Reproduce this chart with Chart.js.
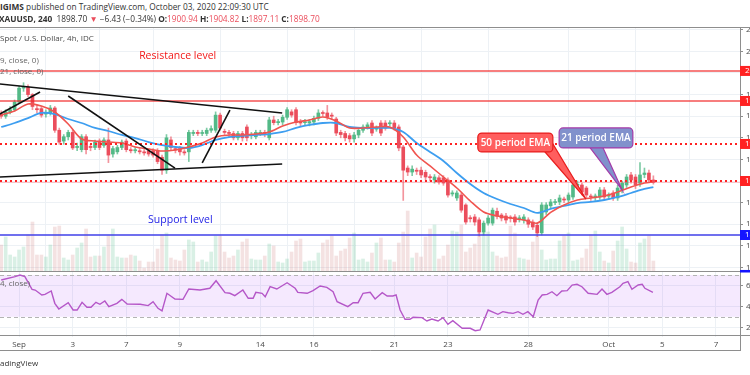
<!DOCTYPE html>
<html>
<head>
<meta charset="utf-8">
<script src="https://cdn.jsdelivr.net/npm/chart.js@4"></script>
<style>
  body { margin: 0; background: #fff; width: 750px; height: 375px; overflow: hidden; position: relative; font-family: 'Open Sans', sans-serif; }
  .t { position: absolute; white-space: nowrap; font-size: 8.3px; line-height: 10px; color: #333; z-index: 2; }
  .s { font-size: 8px; }
  .red { color: #eb4d5c; }
  #priceWrap { position: absolute; left: 0; top: 27px; width: 750px; height: 244px; }
  #rsiWrap { position: absolute; left: 0; top: 271px; width: 750px; height: 81px; }
</style>
</head>
<body>
<div class="t" style="left:0;top:2px"><b>IGIMS</b> published on TradingView.com, October 03, 2020 22:09:30 UTC</div>
<div class="t" style="left:-1px;top:14px"><b>XAUUSD, 240</b>&nbsp; 1898.70 <span class="red">▼</span> −6.43 (−0.34%) <b>O:</b><span class="red">1900.94</span> <b>H:</b><span class="red">1904.82</span> <b>L:</b><span class="red">1897.11</span> <b>C:</b><span class="red">1898.70</span></div>
<div class="t s" style="left:0;top:33px;color:#4a4a4a">Spot / U.S. Dollar, 4h, IDC</div>
<div class="t s" style="left:0;top:55px;color:#666">9, close, 0)</div>
<div class="t s" style="left:0;top:66px;color:#666">21, close, 0)</div>
<div class="t s" style="left:0;top:278px;color:#666">4, close)</div>
<div class="t s" style="left:0;top:358px;color:#333">adingView</div>

<div id="priceWrap"><canvas id="priceChart" width="750" height="244"></canvas></div>
<div id="rsiWrap"><canvas id="rsiChart" width="750" height="81"></canvas></div>

<script>
// ---- data (4h bars, index 0 = first visible bar) ----
const opens  = [1962,1960,1964,1966,1973,1986,1987,1980,1967,1967,1962,1963,1967.6,1947,1937,1941,1945,1931,1929,1941,
  1932,1931,1937,1933,1938,1925,1927,1931,1937,1929,1928,1928,1927,1928,1928,1928,1922,1910,1938,1930,
  1930,1927,1927,1944,1945,1944,1944,1947,1947,1961,1946,1945,1944,1940,1944,1950,1942,1941,1944,1945,
  1940,1956.5,1954,1954.6,1959,1964,1966,1955,1954,1953.7,1954.6,1958,1963,1963,1961,1957.4,1945,1944,1942,1939,
  1942.6,1947,1950,1953.7,1948,1953.7,1953.7,1953,1953.7,1950,1931.5,1912,1908.3,1910,1910,1908,1904,1901,1903,1903,
  1900.9,1888,1884.3,1887,1877.8,1866,1866.7,1864,1852.8,1861,1861,1872,1868.5,1867.6,1866,1866.7,1865,1863.9,1864,1862,
  1859,1852,1871.3,1877,1880,1880.6,1883,1882.4,1885.2,1896,1896.3,1893.5,1886,1885.2,1885.2,1891.7,1886,1888.9,1884.3,1891.7,
  1896.3,1905.6,1903.7,1898,1906,1907.4,1900.94];
const highs  = [1965,1966,1969,1975,1988,1991,1989,1981,1970,1969,1966,1970,1969,1949,1943,1947,1947,1935,1943,1943,
  1934,1938,1939,1940,1949,1932,1933,1938,1939,1931,1931,1930,1929,1930,1930,1930,1924,1943,1941,1932,
  1932,1929,1947,1947,1947,1947,1949,1951,1964,1963,1948,1947,1946,1946,1946,1952,1945,1947,1947,1947,
  1959,1960,1957,1961,1968,1966,1968,1957,1957,1957,1960,1966,1965,1970,1963,1959,1947,1946,1944,1945,
  1949,1952,1954,1956,1951,1956,1956,1956,1956,1952,1933,1914,1914,1912,1913,1910,1906,1906,1905,1905,
  1903,1891,1891,1889,1879,1868,1869,1866,1863,1868,1875,1875,1870,1870,1868,1869,1868,1869,1866,1864,
  1861,1880,1880,1883,1883,1887,1885,1889,1899,1900,1898,1895,1888,1888,1894,1894,1889,1891,1896,1900,
  1906,1908,1906,1917,1912,1910,1904.82];
const lows   = [1958,1958,1962,1965,1972,1983,1978,1966,1963,1959,1959,1961,1945,1934,1934,1938,1929,1928,1927,1925,
  1928,1929,1929,1931,1917,1922,1925,1929,1927,1926,1926,1925,1924,1923,1922,1916,1906,1907,1929,1926,
  1924,1924,1918,1942,1942,1942,1942,1945,1945,1947,1942,1941,1938,1938,1937,1937,1939,1939,1942,1941,
  1938,1952,1952,1952,1957,1959,1952,1951,1952,1951,1952,1956,1960,1957,1957,1942,1940,1937,1936,1936,
  1940,1945,1948,1942,1946,1942,1947,1951,1947,1928,1882,1905,1905,1906,1903,1901,1900,1898,1897,1896,
  1885,1886,1882,1871,1860,1862,1859,1849,1850,1859,1859,1865,1863,1861,1862,1859,1862,1861,1857,1855,
  1848.5,1850,1869,1875,1878,1878,1880,1880,1883,1893,1887,1884,1882,1882,1883,1883,1883,1882,1882,1889,
  1894,1898,1893,1895,1903,1899,1897.11];
const closes = [1960,1964,1966,1973,1986,1987.5,1980,1969,1966,1961,1963,1967.6,1947,1936,1941,1945,1930.6,1932,1941,1929,
  1931,1936,1931,1938,1924,1930,1931,1936,1929,1928,1929,1927,1926,1925,1924,1918,1910,1940,1931,1928.7,
  1927,1926,1945,1945,1944,1944.5,1947,1948.5,1961,1949,1945,1944,1940,1944,1940,1940,1943,1945,1945,1943,
  1956.5,1954,1955,1959,1966,1961,1954,1953.7,1954.5,1955,1958,1963,1962.5,1959,1960,1944.4,1943,1940,1939,1942.6,
  1947,1950,1952,1944.4,1949,1944.4,1949,1953.7,1949,1930.6,1910,1908.3,1911,1909,1905.6,1903.7,1903,1903.7,1899.1,1898.1,
  1887,1889,1888.9,1873,1862,1865,1862,1852.8,1861,1865.7,1873,1867.6,1865.7,1863.9,1865.7,1862,1865.7,1866.7,1860,1857.4,
  1852,1877.8,1877.8,1880.6,1880.6,1884.3,1882.4,1887,1896.3,1897,1889.8,1887,1885.2,1886,1891.7,1885.2,1886.5,1884.3,1893.5,1898.1,
  1903.7,1900.9,1896.3,1905.6,1907.4,1900.9,1898.70];
const volumes = [26,34,16,14,21,24,36,49,16,16,14,26,44,45,13,11,16,23,28,42,
  14,15,15,24,35,42,14,13,13,16,15,10,3,9,9,22,36,38,13,11,
  10,21,31,29,9,11,9,19,35,35,19,13,15,21,29,32,12,11,11,15,
  27,25,9,8,12,19,30,32,9,10,10,18,28,31,35,15,20,22,33,38,
  11,12,9,18,28,33,11,11,9,28,39,60,13,18,14,34,42,46,12,15,
  26,40,39,46,19,23,27,39,39,39,19,15,13,14,45,38,13,12,11,29,
  42,21,11,12,12,30,35,38,10,11,13,22,36,40,19,10,8,20,30,44,
  22,9,8,28,32,35,10];

// EMA lines, read every third bar
const emaBars = [0,3,6,9,12,15,18,21,24,27,30,33,36,39,42,45,48,51,54,57,60,63,66,69,72,75,78,81,84,87,
  90,93,96,99,102,105,108,111,114,117,120,123,126,129,132,135,138,141,144,146];
const ema9  = [1961.1,1964.8,1971.3,1969.4,1963.9,1952.8,1938.9,1937,1936.1,1935.2,1931.5,1929.6,1927.8,1928.7,1931.5,
  1935.2,1940.7,1942.6,1942.6,1943.5,1945.4,1950.9,1954.6,1956.5,1959.3,1955.6,1949.1,1949.1,1950,1950,
  1940.7,1924.1,1913.9,1903.7,1893.5,1881.5,1871.3,1867.6,1865.7,1863.9,1861,1871,1877.8,1882.4,1884.3,
  1886.1,1889.8,1894.4,1898.1,1899.1];
const ema21 = [1950,1953.7,1958.3,1963,1962,1957.4,1953.7,1949.1,1946.3,1942.6,1939.8,1936.1,1933.3,1931.5,1930.6,
  1933.3,1938,1940.7,1941.7,1942.6,1943.5,1945.4,1949.1,1951.9,1953.7,1953.7,1950,1949.1,1949.1,1949.1,
  1945.4,1935.2,1926.9,1918.5,1907.4,1897.2,1888.9,1883.3,1878.7,1875,1870.4,1874.1,1876.9,1879.6,1880.6,
  1882.4,1885.2,1888.9,1892.6,1894.4];

// RSI readings (bar position, value)
const rsiBars = [0,3.1,4.2,5.3,6.9,7.6,9.1,9.8,11.2,12,12.9,15,16.1,17,18.1,19.2,20.1,21.2,22.1,23.2,
  24.1,25.9,27,28.2,31.1,32.9,34,35.1,36,37.1,38.9,40.7,42,44.5,46.7,48.1,50.1,51.2,52.3,54.1,
  55.3,56.4,57,58.4,59.1,60.2,61.7,64,65.8,66.4,68.5,69.8,71.4,72.9,74.3,75.2,77.6,78.8,79.9,81,
  82.6,83.7,85.3,86.4,87.7,88.4,89.3,90.4,91.5,92.2,94.2,95.3,96.4,97.8,98.9,100,101.1,103.2,105,106.1,
  107.2,109,111.2,112.3,113.5,114.6,115.7,116.8,117.9,119.1,120.2,121.1,122.2,123.3,124.4,125.5,126.7,127.8,128.9,130,
  131.4,133.4,134.5,135.6,136.7,138.5,139.2,140.3,141.2,142.6,143.5,144.1,145.9];
const rsiVals = [65.2,68.4,70,68.4,56.3,55.6,50.9,51.5,54.7,42.9,37.5,43.5,36.5,36.5,43.9,39.1,39.1,43.9,42,45.1,
  39.7,42.9,46.7,42.2,42,40.7,44.5,38.1,35.6,52.5,47,46.7,56.6,55.6,57.3,64.5,53.1,52.5,50.2,55.6,
  47.7,47.7,53.4,52.5,49.2,58.8,56.6,62.6,57.3,53.4,52.5,55,59.5,58.2,54,44.5,39.7,43.5,43.5,52.5,
  53.4,47,53.1,49.9,49.9,50.9,36.5,27.6,27.6,29.5,29.2,26,27.9,26,29.2,22.8,26.3,19,19,16.7,
  17.4,36.5,32.4,34.9,33.9,33.3,34.9,32.4,34.9,30.1,46.1,50.9,51.5,54,50.2,54.7,55,60.4,61.1,58.8,
  52.5,51.5,56.6,51.5,53.4,58.8,62,63.6,56.3,60.4,61.1,57.3,53.4];

// axis ticks
const dayTickBars = [4,16,28,40,58,70,88,100,118,136,148,160];
const dayLabels = ['Sep','3','7','9','14','16','21','23','28','Oct','5','7'];
const priceTicks = [1820,1840,1860,1880,1900,1920,1940,1960,1980,2000,2020,2040];
const rsiTicks = [20,40,60];

// drawn levels and trend lines (bar, price)
const levelPrices = [2001.9, 1974.1, 1934.3, 1900, 1850];
const trendFrom = [[-0.3,1989.8],[-0.3,1962],[15,1978.7],[-0.3,1903.7],[45,1916.7]];
const trendTo   = [[62.9,1963],[8.7,1982.4],[38.9,1912],[62.9,1915.7],[51.2,1965.7]];

// ---- styling ----
const UP = '#53b987', DOWN = '#eb4d5c';
const GRID = '#edf1f5', AXIS = '#8e8e8e', TICK_TXT = '#4a4a4a';
const X_MIN = -0.27, X_MAX = 165.39;
const FONT = "'Open Sans', sans-serif";
const levelStyles = [
  { color: 'rgba(242,40,40,0.8)', dash: [], box: '#f22' },
  { color: 'rgba(242,40,40,0.8)', dash: [], box: '#f22' },
  { color: '#f22', dash: [2, 3], box: '#f22' },
  { color: '#f22', dash: [2, 3], box: '#f22' },
  { color: '#4040e8', dash: [], box: '#1414ff' }
];

const isUp = i => closes[i] >= opens[i];
const bars = opens.map((_, i) => i);

// keep Chart.js from reserving room for edge tick labels
const noPad = s => { s.paddingTop = 0; s.paddingBottom = 0; s.paddingLeft = 0; s.paddingRight = 0; };

const dayGridX = {
  type: 'linear', min: X_MIN, max: X_MAX, offset: false,
  afterBuildTicks: s => { s.ticks = dayTickBars.map(v => ({ value: v })); }
};

// draws level lines, trend lines, notes and callouts on the price pane
const drawingsPlugin = {
  id: 'drawings',
  afterDatasetsDraw(chart) {
    const { ctx, chartArea: a, scales: { x, y } } = chart;
    const px = (b, p) => [x.getPixelForValue(b), y.getPixelForValue(p)];
    ctx.save();
    ctx.beginPath();
    ctx.rect(a.left, a.top, a.right - a.left, a.bottom - a.top);
    ctx.clip();

    // last price line
    ctx.strokeStyle = 'rgba(235,77,92,0.35)';
    ctx.lineWidth = 1;
    let ly = Math.round(y.getPixelForValue(closes[closes.length - 1])) + 0.5;
    ctx.beginPath(); ctx.moveTo(a.left, ly); ctx.lineTo(a.right, ly); ctx.stroke();

    levelPrices.forEach((p, k) => {
      const st = levelStyles[k];
      const yy = y.getPixelForValue(p);
      ctx.strokeStyle = st.color;
      ctx.lineWidth = st.dash.length ? 2 : 1.5;
      ctx.setLineDash(st.dash);
      ctx.beginPath(); ctx.moveTo(a.left, yy); ctx.lineTo(a.right, yy); ctx.stroke();
    });
    ctx.setLineDash([]);

    ctx.strokeStyle = '#111';
    ctx.lineWidth = 1.6;
    trendFrom.forEach((f, k) => {
      const p0 = px(f[0], f[1]), p1 = px(trendTo[k][0], trendTo[k][1]);
      ctx.beginPath(); ctx.moveTo(p0[0], p0[1]); ctx.lineTo(p1[0], p1[1]); ctx.stroke();
    });

    ctx.font = '10.5px ' + FONT;
    ctx.textAlign = 'center';
    ctx.textBaseline = 'middle';
    let p = px(39.5, 2015.7);
    ctx.fillStyle = '#f21818';
    ctx.fillText('Resistance level', p[0], p[1]);
    p = px(40.1, 1863.9);
    ctx.fillStyle = '#2323e6';
    ctx.fillText('Support level', p[0], p[1]);

    // callouts
    const callout = (box, tail, fill, stroke, text) => {
      const b0 = px(box[0], box[2]), b1 = px(box[1], box[3]);
      ctx.beginPath();
      tail.forEach((t, n) => { const q = px(t[0], t[1]); n ? ctx.lineTo(q[0], q[1]) : ctx.moveTo(q[0], q[1]); });
      ctx.closePath();
      ctx.fillStyle = fill; ctx.fill();
      ctx.strokeStyle = stroke; ctx.lineWidth = 1.2; ctx.stroke();
      ctx.beginPath();
      ctx.roundRect(b0[0], b0[1], b1[0] - b0[0], b1[1] - b0[1], 4);
      ctx.fillStyle = fill; ctx.fill();
      ctx.strokeStyle = stroke; ctx.stroke();
      ctx.fillStyle = '#fff';
      ctx.font = '600 10px ' + FONT;
      ctx.fillText(text, (b0[0] + b1[0]) / 2, (b0[1] + b1[1]) / 2 + 0.5);
    };
    callout([106.7, 123.5, 1944.4, 1926.9], [[121.5, 1928], [123.5, 1934.3], [130.9, 1883.3]],
      '#ff5e5e', '#e81c1c', '50 period EMA');
    callout([124.9, 141.4, 1949.1, 1930.6], [[131.8, 1931], [134.7, 1931], [139, 1891.7]],
      '#8191cc', '#a33aa8', '21 period EMA');
    ctx.restore();
  },
  afterDraw(chart) {
    const { ctx, chartArea: a, scales: { y } } = chart;
    ctx.save();
    ctx.strokeStyle = AXIS; ctx.lineWidth = 1;
    ctx.beginPath(); ctx.moveTo(0, 0.5); ctx.lineTo(750, 0.5); ctx.stroke();
    ctx.font = '8px ' + FONT;
    ctx.textBaseline = 'middle';
    ctx.textAlign = 'left';
    const boxes = levelPrices.concat([1813]);
    boxes.forEach((p, k) => {
      const yy = y.getPixelForValue(p);
      ctx.fillStyle = k < levelStyles.length ? levelStyles[k].box : '#1414ff';
      ctx.fillRect(a.right, yy - 5, 12, 10);
      ctx.fillStyle = '#fff';
      ctx.fillText(p.toFixed(2), a.right + 5, yy);
    });
    ctx.restore();
  }
};

new Chart(document.getElementById('priceChart'), {
  type: 'bar',
  data: {
    datasets: [
      { type: 'line', label: 'EMA 9', data: emaBars.map((b, k) => ({ x: b, y: ema9[k] })),
        borderColor: '#f0544f', borderWidth: 1.6, pointRadius: 0, tension: 0.3, order: 0 },
      { type: 'line', label: 'EMA 21', data: emaBars.map((b, k) => ({ x: b, y: ema21[k] })),
        borderColor: '#3d9ef0', borderWidth: 1.8, pointRadius: 0, tension: 0.3, order: 1 },
      { label: 'Body', data: bars.map(i => ({ x: i, y: [opens[i], closes[i]] })),
        backgroundColor: bars.map(i => isUp(i) ? UP : DOWN), barThickness: 3, minBarLength: 1,
        grouped: false, order: 2 },
      { label: 'Wick', data: bars.map(i => ({ x: i, y: [lows[i], highs[i]] })),
        backgroundColor: bars.map(i => isUp(i) ? 'rgba(83,185,135,0.75)' : 'rgba(235,77,92,0.6)'),
        barThickness: 1, grouped: false, order: 3 },
      { label: 'Volume', data: bars.map(i => ({ x: i, y: volumes[i] })), yAxisID: 'yv',
        backgroundColor: bars.map(i => isUp(i) ? 'rgba(83,185,135,0.22)' : 'rgba(200,110,110,0.2)'),
        barThickness: 3, grouped: false, order: 5 }
    ]
  },
  options: {
    responsive: false, animation: false,
    layout: { padding: 0 },
    plugins: { legend: { display: false }, tooltip: { enabled: false } },
    scales: {
      x: Object.assign({}, dayGridX, {
        ticks: { display: false },
        grid: { color: GRID, drawTicks: false },
        border: { display: false },
        afterFit: s => { s.height = 0; noPad(s); }
      }),
      y: {
        position: 'right', min: 1816.67, max: 2042.59,
        afterBuildTicks: s => { s.ticks = priceTicks.map(v => ({ value: v })); },
        afterFit: s => { s.width = 10; noPad(s); },
        ticks: { color: TICK_TXT, font: { size: 8, family: FONT }, padding: 3 },
        grid: { color: GRID, tickLength: 3, tickColor: AXIS },
        border: { color: AXIS }
      },
      yv: { display: false, min: 0, max: 244 }
    }
  },
  plugins: [drawingsPlugin]
});

// RSI band, dashed bounds and frame lines
const rsiPanePlugin = {
  id: 'rsiPane',
  beforeDatasetsDraw(chart) {
    const { ctx, chartArea: a, scales: { y } } = chart;
    const y70 = y.getPixelForValue(70), y30 = y.getPixelForValue(30);
    ctx.save();
    ctx.fillStyle = 'rgba(156,39,246,0.1)';
    ctx.fillRect(a.left, y70, a.right - a.left, y30 - y70);
    ctx.strokeStyle = '#b4b4b4';
    ctx.setLineDash([4, 3]);
    ctx.lineWidth = 1;
    [y70, y30].forEach(v => {
      ctx.beginPath(); ctx.moveTo(a.left, Math.round(v) + 0.5); ctx.lineTo(a.right, Math.round(v) + 0.5); ctx.stroke();
    });
    ctx.restore();
  },
  afterDraw(chart) {
    const { ctx, chartArea: a } = chart;
    ctx.save();
    ctx.strokeStyle = AXIS; ctx.lineWidth = 1;
    ctx.beginPath();
    ctx.moveTo(0, 0.5); ctx.lineTo(750, 0.5);
    ctx.moveTo(0, a.bottom + 0.5); ctx.lineTo(750, a.bottom + 0.5);
    ctx.moveTo(0, 79.5); ctx.lineTo(a.right + 0.5, 79.5);
    ctx.moveTo(a.right + 0.5, 0); ctx.lineTo(a.right + 0.5, 80);
    ctx.stroke();
    ctx.fillStyle = '#1414ff';
    ctx.fillRect(a.right, -1, 12, 2.5);
    ctx.restore();
  }
};

new Chart(document.getElementById('rsiChart'), {
  type: 'line',
  data: {
    datasets: [{ label: 'RSI', data: rsiBars.map((b, k) => ({ x: b, y: rsiVals[k] })),
      borderColor: '#b557c8', borderWidth: 1.4, pointRadius: 0, tension: 0 }]
  },
  options: {
    responsive: false, animation: false,
    layout: { padding: { top: 1 } },
    plugins: { legend: { display: false }, tooltip: { enabled: false } },
    scales: {
      x: Object.assign({}, dayGridX, {
        ticks: { color: TICK_TXT, font: { size: 8, family: FONT }, padding: 3, autoSkip: false, maxRotation: 0,
          callback: v => { const k = dayTickBars.indexOf(v); return k >= 0 ? dayLabels[k] : ''; } },
        grid: { color: GRID, tickLength: 2 },
        border: { color: AXIS },
        afterFit: s => { s.height = 17; noPad(s); }
      }),
      y: {
        position: 'right', min: 12.58, max: 72.87,
        afterBuildTicks: s => { s.ticks = rsiTicks.map(v => ({ value: v })); },
        afterFit: s => { s.width = 10; noPad(s); },
        ticks: { color: TICK_TXT, font: { size: 8, family: FONT }, padding: 3 },
        grid: { color: GRID, tickLength: 3, tickColor: AXIS },
        border: { color: AXIS }
      }
    }
  },
  plugins: [rsiPanePlugin]
});
</script>
</body>
</html>
